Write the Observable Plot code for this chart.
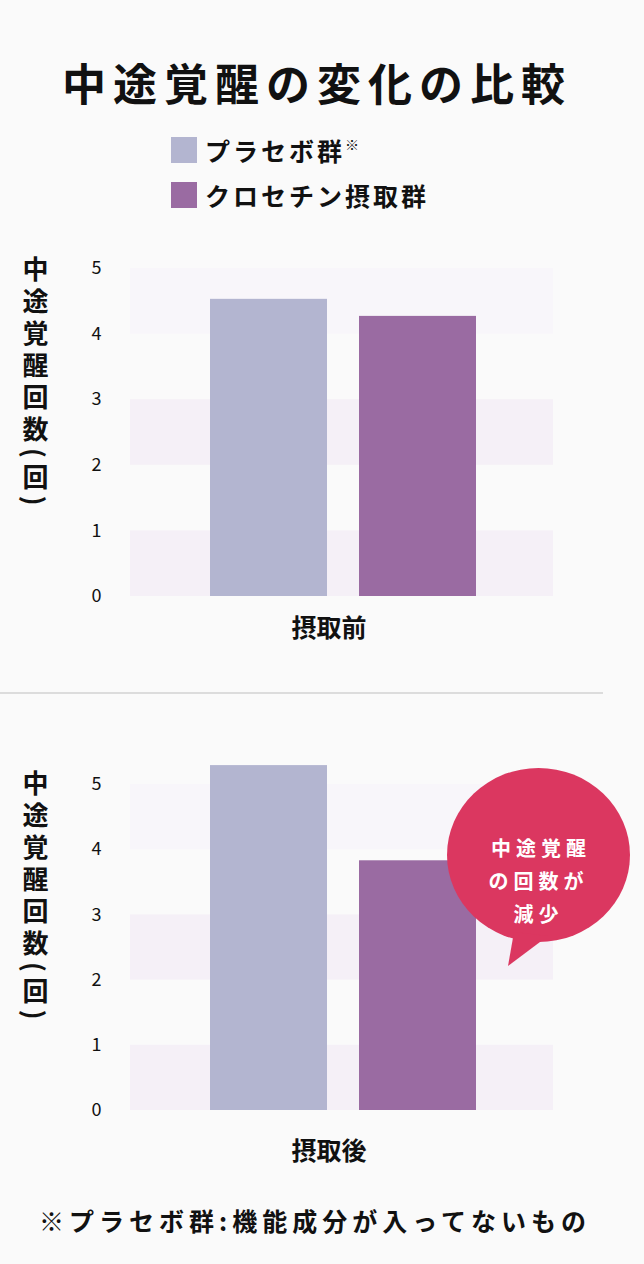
<!DOCTYPE html>
<html><head><meta charset="utf-8">
<script src="https://cdn.jsdelivr.net/npm/d3@7"></script>
<script src="https://cdn.jsdelivr.net/npm/@observablehq/plot@0.6"></script>
<style>
html,body{margin:0;padding:0;background:#fafafa;}
body{width:644px;height:1264px;position:relative;overflow:hidden;font-family:"Noto Sans CJK JP","Noto Sans",sans-serif;color:#111;}
.abs{position:absolute;}
#title{left:0;width:644px;top:52px;text-align:center;font-size:44px;font-weight:700;letter-spacing:7px;line-height:60px;padding-right:10px;box-sizing:border-box;}
.sw{width:26px;height:26px;}
.lg{font-size:25px;font-weight:700;letter-spacing:3px;line-height:30px;}
.lg sup{font-size:14px;vertical-align:top;position:relative;top:-6px;letter-spacing:0;}
.ylab{writing-mode:vertical-rl;font-size:26px;font-weight:700;letter-spacing:6px;line-height:28px;}
#divider{left:0;top:692px;width:603px;height:2px;background:#dcdcdc;}
#bubble{left:447px;top:768px;width:183px;height:174px;border-radius:50%;background:#db3760;color:#fff;}
#bubble .t{position:absolute;left:0;width:183px;top:63px;text-align:center;font-size:20px;font-weight:700;letter-spacing:5px;text-indent:5px;line-height:33px;}
#foot{left:0;width:644px;top:1202px;text-align:center;font-size:25px;font-weight:700;letter-spacing:5px;line-height:36px;padding-right:14px;box-sizing:border-box;}
svg.plot{background:transparent;}
</style>
</head><body>
<script>
// ---- data ----
const groups = ["プラセボ群", "クロセチン摂取群"];
const periods = ["摂取前", "摂取後"];
const placeboValues = [4.53, 5.29];
const crocetinValues = [4.27, 3.83];
const yTicks = [0, 1, 2, 3, 4, 5];
const bandRanges = [[0, 1], [2, 3], [4, 5]];
const groupColors = ["#b3b5d0", "#9a6ba2"];
const yLabel = "中途覚醒回数(回)";
const titleText = "中途覚醒の変化の比較";
const calloutLines = ["中途覚醒", "の回数が", "減少"];
const footText = "※プラセボ群:機能成分が入ってないもの";

function el(cls, id, html, style) {
  const d = document.createElement("div");
  d.className = cls; if (id) d.id = id; if (html != null) d.innerHTML = html;
  if (style) Object.assign(d.style, style);
  document.body.appendChild(d); return d;
}

el("abs", "title", titleText);
// legend
el("abs sw", null, null, {left: "171px", top: "137px", background: groupColors[0]});
el("abs lg", null, groups[0] + "<sup>※</sup>", {left: "205px", top: "135px"});
el("abs sw", null, null, {left: "171px", top: "182px", background: groupColors[1]});
el("abs lg", null, groups[1], {left: "205px", top: "180px"});

function chart(i, opts) {
  const rows = [
    {group: groups[0], value: placeboValues[i]},
    {group: groups[1], value: crocetinValues[i]}
  ];
  const p = Plot.plot({
    width: 644, height: opts.height,
    marginLeft: 130, marginRight: 91, marginTop: opts.mt, marginBottom: opts.mb,
    style: {background: "transparent", fontFamily: "'Noto Sans CJK JP', sans-serif", color: "#111"},
    x: {type: "band", domain: groups, range: [210, 476], paddingInner: 0.2148, paddingOuter: 0, axis: null},
    y: {domain: [0, 5], ticks: yTicks, axis: null},
    color: {domain: groups, range: groupColors},
    marks: [
      Plot.rectY(bandRanges, {y1: d => d[0], y2: d => d[1], fill: d => d[0] === 4 ? "#f8f6fa" : "#f5f0f7"}),
      Plot.barY(rows, {x: "group", y: "value", fill: "group"}),
      Plot.axisY(yTicks, {tickSize: 0, tickPadding: 29, fontSize: 18, tickFormat: d => String(d), label: null}),
      Plot.text([periods[i]], {frameAnchor: "bottom", text: d => d, dy: opts.labelDy, dx: -13, fontSize: 25, fontWeight: 700, fill: "#111"})
    ]
  });
  const wrap = el("abs", null, null, {left: "0px", top: opts.top + "px"});
  wrap.appendChild(p);
  el("abs ylab", null, yLabel, {left: "21px", top: opts.labelTop + "px"});
}

chart(0, {top: 250, height: 420, mt: 18, mb: 74, labelDy: 40, labelTop: 256});
el("abs", "divider");
chart(1, {top: 740, height: 440, mt: 44, mb: 70, labelDy: 49, labelTop: 770});

// callout
const b = el("abs", "bubble");
const t = document.createElement("div"); t.className = "t"; t.innerHTML = calloutLines.join("<br>"); b.appendChild(t);
const ns = "http://www.w3.org/2000/svg";
const s = document.createElementNS(ns, "svg");
s.setAttribute("width", 644); s.setAttribute("height", 1264);
s.style.position = "absolute"; s.style.left = "0"; s.style.top = "0"; s.style.pointerEvents = "none";
const poly = document.createElementNS(ns, "polygon");
poly.setAttribute("points", "514,932 548,936 508,966");
poly.setAttribute("fill", "#db3760");
s.appendChild(poly);
document.body.appendChild(s);

el("abs", "foot", footText);
</script>
</body></html>
